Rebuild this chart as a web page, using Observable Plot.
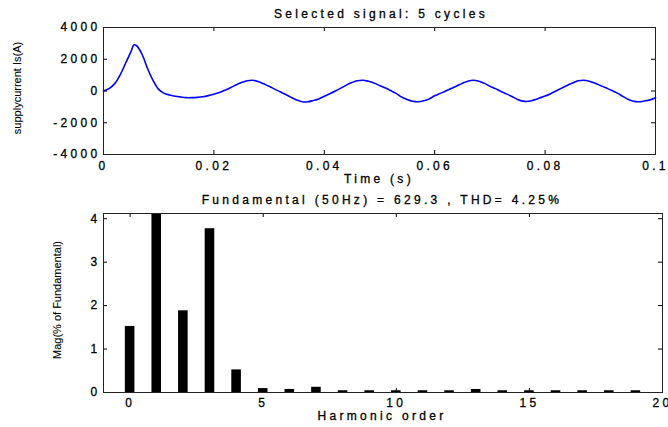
<!DOCTYPE html>
<html><head><meta charset="utf-8">
<script src="https://cdn.jsdelivr.net/npm/d3@7"></script>
<script src="https://cdn.jsdelivr.net/npm/@observablehq/plot@0.6"></script>
<style>
body{margin:0;background:#fff;}
#chart{width:668px;height:427px;position:relative;overflow:hidden;}
#chart svg{display:block;}
#chart svg text{stroke:black;stroke-width:0.3px;}
</style></head><body><div id="chart"></div>
<script>
// ---- Top panel: selected signal (time in s, current in A) ----
const time = [0,0.001,0.002,0.003,0.004,0.005,0.0055,0.006,0.007,0.008,0.009,0.010,0.011,0.012,0.013,0.014,0.015,0.016,0.017,0.018,0.019,0.020,
  0.021,0.022,0.023,0.024,0.025,0.026,0.027,0.028,0.029,0.030,0.031,0.032,0.033,0.034,0.035,0.036,0.037,0.038,0.039,0.040,
  0.041,0.042,0.043,0.044,0.045,0.046,0.047,0.048,0.049,0.050,0.051,0.052,0.053,0.054,0.055,0.056,0.057,0.058,0.059,0.060,
  0.061,0.062,0.063,0.064,0.065,0.066,0.067,0.068,0.069,0.070,0.071,0.072,0.073,0.074,0.075,0.076,0.077,0.078,0.079,0.080,
  0.081,0.082,0.083,0.084,0.085,0.086,0.087,0.088,0.089,0.090,0.091,0.092,0.093,0.094,0.095,0.096,0.097,0.098,0.099,0.100];
const current = [0,150,450,1000,1750,2500,2900,2850,2300,1400,650,100,-150,-250,-330,-380,-420,-420,-400,-360,-290,-200,
  -100,50,200,380,530,640,680,600,450,300,120,-50,-220,-400,-560,-680,-680,-600,-500,-330,
  -170,0,180,370,530,650,680,610,500,350,200,30,-150,-380,-540,-650,-680,-620,-500,-300,
  -150,0,160,320,480,620,680,620,480,300,150,-30,-180,-350,-530,-640,-650,-560,-440,-320,
  -170,0,180,350,500,640,680,620,500,350,200,50,-120,-320,-520,-650,-680,-630,-560,-420];
const topXTicks = [0,0.02,0.04,0.06,0.08,0.1];
const topYTicks = [-4000,-2000,0,2000,4000];

// ---- Bottom panel: harmonic spectrum (% of fundamental) ----
const harmonicOrder = [0,1,2,3,4,5,6,7,8,9,10,11,12,13,14,15,16,17,18,19];
const harmonicMag = [1.52,4.3,1.88,3.77,0.52,0.09,0.07,0.12,0.04,0.04,0.04,0.04,0.04,0.07,0.04,0.04,0.04,0.04,0.04,0.04];
const botXTicks = [0,5,10,15,20];
const botYTicks = [0,1,2,3,4];

const signal = time.map((t,i)=>({t, v: current[i]}));
const harmonics = harmonicOrder.map((h,i)=>({h, m: harmonicMag[i]}));

const FONT = "'Liberation Sans', Arial, sans-serif";
const baseStyle = {fontFamily: FONT, fontSize: "12px", letterSpacing: "3.3px", color: "black", background: "white", overflow: "visible"};

const W = 668, H1 = 190, H2 = 237;
const tm = {l:103, r:13, t:27, b:36};
const fh1 = H1 - tm.t - tm.b, fw1 = W - tm.l - tm.r;
const topChart = Plot.plot({
  width: W, height: H1,
  marginLeft: tm.l, marginRight: tm.r, marginTop: tm.t, marginBottom: tm.b,
  style: baseStyle,
  x: {domain: [0, 0.1]},
  y: {domain: [-4000, 4000]},
  marks: [
    Plot.line(signal, {x: "t", y: "v", stroke: "#0000ff", strokeWidth: 1.6, curve: "catmull-rom"}),
    Plot.tickX(topXTicks, {x: d=>d, stroke: "black", insetTop: fh1 - 4}),
    Plot.tickX(topXTicks, {x: d=>d, stroke: "black", insetBottom: fh1 - 4}),
    Plot.tickY(topYTicks, {y: d=>d, stroke: "black", insetRight: fw1 - 4}),
    Plot.tickY(topYTicks, {y: d=>d, stroke: "black", insetLeft: fw1 - 4}),
    Plot.axisX(topXTicks, {tickSize: 0, tickPadding: 7, tickFormat: d=>String(d), label: null}),
    Plot.axisY(topYTicks, {tickSize: 0, tickPadding: 3, tickFormat: d=>String(d), label: null}),
    Plot.frame({stroke: "#222"})
  ]
});

const bm = {l:103, r:6, t:23, b:35};
const fh2 = H2 - bm.t - bm.b, fw2 = W - bm.l - bm.r;
const bottomChart = Plot.plot({
  width: W, height: H2,
  marginLeft: bm.l, marginRight: bm.r, marginTop: bm.t, marginBottom: bm.b,
  style: baseStyle,
  x: {domain: [-1, 20]},
  y: {domain: [0, 4.12]},
  marks: [
    Plot.rectY(harmonics, {x1: d=>d.h - 0.18, x2: d=>d.h + 0.18, y: "m", fill: "black", clip: true}),
    Plot.tickX(botXTicks, {x: d=>d, stroke: "black", insetTop: fh2 - 4}),
    Plot.tickX(botXTicks, {x: d=>d, stroke: "black", insetBottom: fh2 - 4}),
    Plot.tickY(botYTicks, {y: d=>d, stroke: "black", insetRight: fw2 - 4}),
    Plot.tickY(botYTicks, {y: d=>d, stroke: "black", insetLeft: fw2 - 4}),
    Plot.axisX(botXTicks, {tickSize: 0, tickPadding: 6, tickFormat: d=>String(d), label: null}),
    Plot.axisY(botYTicks, {tickSize: 0, tickPadding: 3, tickFormat: d=>String(d), label: null}),
    Plot.frame({stroke: "#222"})
  ]
});

function addText(svg, x, y, str, opts = {}) {
  const el = d3.select(svg).append("text")
    .attr("x", x).attr("y", y)
    .attr("text-anchor", "middle")
    .attr("fill", "black")
    .style("font-family", FONT)
    .style("font-size", opts.size || "12px")
    .style("letter-spacing", opts.ls || "3.3px")
    .text(str);
  if (opts.rotate) el.attr("transform", `rotate(-90 ${x} ${y})`);
  return el;
}

addText(topChart, 381, 18, "Selected signal: 5 cycles");
addText(topChart, 379, 183, "Time (s)");
addText(topChart, 21, 88, "supplycurrent Is(A)", {size: "11px", ls: "0px", rotate: true}).style("stroke-width", "0.1px");

addText(bottomChart, 382, 14, "Fundamental (50Hz) = 629.3 , THD= 4.25%");
addText(bottomChart, 382, 230, "Harmonic order");
addText(bottomChart, 61, 110, "Mag(% of Fundamental)", {size: "11px", ls: "0px", rotate: true}).style("stroke-width", "0.1px");

document.getElementById("chart").append(topChart, bottomChart);
</script>
</body></html>
